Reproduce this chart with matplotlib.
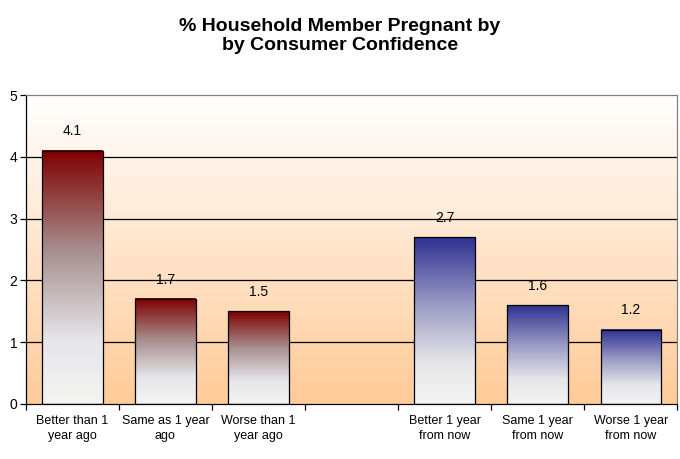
import matplotlib
matplotlib.use("Agg")
import matplotlib.pyplot as plt
from matplotlib.colors import LinearSegmentedColormap
import numpy as np

plt.rcParams['font.family'] = ['Liberation Sans', 'DejaVu Sans']

# data
categories = ['Better than 1\nyear ago', 'Same as 1 year\nago', 'Worse than 1\nyear ago', '',
              'Better 1 year\nfrom now', 'Same 1 year\nfrom now', 'Worse 1 year\nfrom now']
values = [4.1, 1.7, 1.5, None, 2.7, 1.6, 1.2]
series_colors = ['#800000', '#800000', '#800000', None, '#2E3192', '#2E3192', '#2E3192']
title = '% Household Member Pregnant by\nby Consumer Confidence'

fig = plt.figure(figsize=(6.8, 4.59), dpi=100)
ax = fig.add_axes([0.038, 0.12, 0.958, 0.673])

x = np.arange(len(categories))

# background gradient: white at top to peach at bottom
bg = LinearSegmentedColormap.from_list('bg', ['#FFCB98', '#FFFFFF'])
ax.imshow(np.linspace(0, 1, 256).reshape(-1, 1), cmap=bg, origin='lower',
          extent=[0, 1, 0, 1], transform=ax.transAxes, aspect='auto', zorder=0)

ax.set_yticks(range(0, 6))
for y in range(1, 5):
    ax.axhline(y, color='black', lw=0.9, zorder=1)

for xi, v, c in zip(x, values, series_colors):
    if v is None:
        continue
    bar = ax.bar(xi, v, width=0.65, facecolor='none', edgecolor='black', lw=0.9, zorder=3)[0]
    cm = LinearSegmentedColormap.from_list('g', [(0, '#F4F4F2'), (0.25, '#E6E6EA'),
                                                 (0.6, '#A89090' if c == '#800000' else '#9A9AC4'),
                                                 (1, c)])
    ax.imshow(np.linspace(0, 1, 256).reshape(-1, 1), cmap=cm, origin='lower',
              extent=[bar.get_x(), bar.get_x() + bar.get_width(), 0, bar.get_height()],
              aspect='auto', zorder=2)
    ax.text(xi, v + 0.2, f'{v:.1f}', ha='center', va='bottom', fontsize=10)

ax.set_xlim(-0.5, len(categories) - 0.5)
ax.set_ylim(0, 5)

ax.set_xticks(x)
ax.set_xticklabels(categories, fontsize=9, linespacing=1.3)
ax.set_xticks(np.arange(-0.5, len(categories)), minor=True)
ax.tick_params(axis='x', which='major', length=0, pad=8)
ax.tick_params(axis='x', which='minor', length=4, width=0.9, direction='out')
ax.tick_params(axis='y', length=4, width=0.9, direction='out', labelsize=10, pad=2)

for s in ['top', 'right']:
    ax.spines[s].set_color('#808080')
    ax.spines[s].set_linewidth(0.9)
for s in ['left', 'bottom']:
    ax.spines[s].set_color('black')
    ax.spines[s].set_linewidth(0.9)

fig.text(0.5, 0.96, title, ha='center', va='top', fontsize=14, fontweight='bold',
         linespacing=1.15)

fig.savefig('out.png', dpi=100)
